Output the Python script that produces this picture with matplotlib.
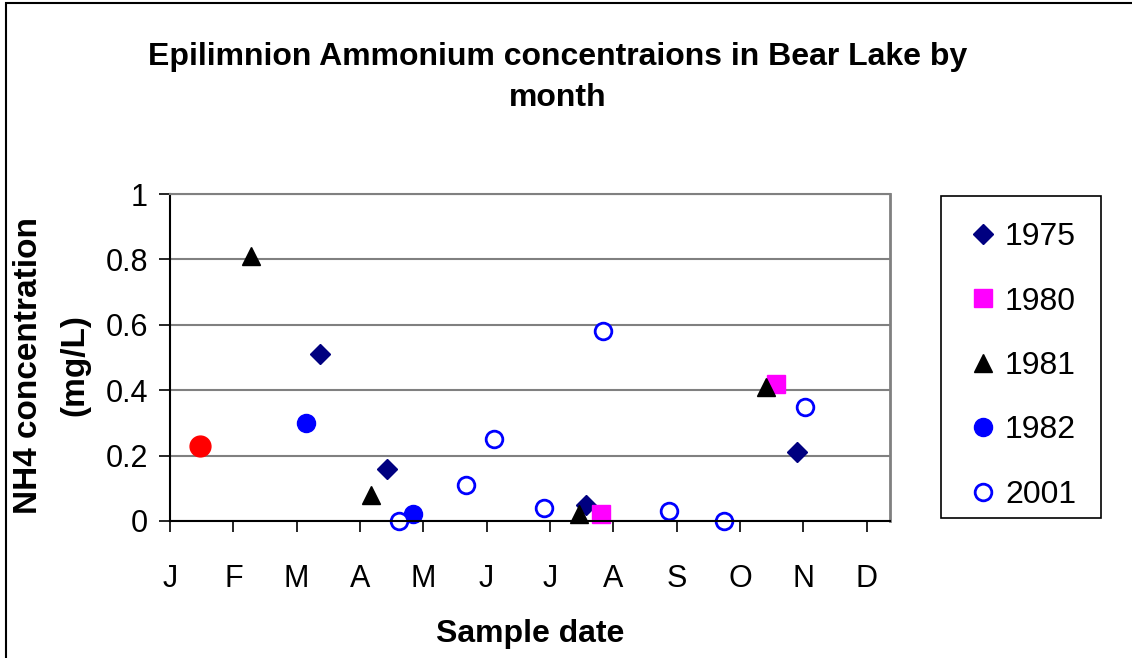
import matplotlib.pyplot as plt
from matplotlib.patches import Rectangle

plt.rcParams['font.family'] = ['Liberation Sans', 'DejaVu Sans']

# x in months from Jan 1 (0 = J tick), y in mg/L
months = ['J', 'F', 'M', 'A', 'M', 'J', 'J', 'A', 'S', 'O', 'N', 'D']

x1975 = [2.37, 3.43, 6.57, 9.90]
y1975 = [0.51, 0.16, 0.05, 0.21]

x1980 = [6.81, 9.57]
y1980 = [0.02, 0.42]

x1981 = [1.28, 3.17, 6.46, 9.41]
y1981 = [0.81, 0.08, 0.02, 0.41]

x1982 = [2.15, 3.84]
y1982 = [0.30, 0.02]

x2001 = [3.62, 4.67, 5.12, 5.91, 6.84, 7.88, 8.75, 10.03]
y2001 = [0.00, 0.11, 0.25, 0.04, 0.58, 0.03, 0.00, 0.35]

x_red = [0.47]
y_red = [0.23]

W, H = 1132, 658
fig = plt.figure(figsize=(W / 100, H / 100), dpi=100)
ax = fig.add_axes([170 / W, 1 - 521 / H, 720 / W, 327 / H])

ax.plot(x1975, y1975, 'D', color='#000080', ms=10, ls='none', label='1975', clip_on=False)
ax.plot(x1980, y1980, 's', color='#FF00FF', ms=13, ls='none', label='1980', clip_on=False)
ax.plot(x1981, y1981, '^', color='black', ms=13, ls='none', label='1981', clip_on=False)
ax.plot(x1982, y1982, 'o', color='#0000FF', ms=13, ls='none', label='1982', clip_on=False)
ax.plot(x2001, y2001, 'o', mfc='white', mec='#0000FF', mew=2, ms=12, ls='none', label='2001', clip_on=False)
ax.plot(x_red, y_red, 'o', color='#FF0000', ms=15, ls='none', clip_on=False)

ax.set_xlim(0, 11.37)
ax.set_ylim(0, 1)
ax.set_xticks(range(len(months)))
ax.set_xticklabels(months)
ax.set_yticks([0, 0.2, 0.4, 0.6, 0.8, 1])
ax.set_yticklabels(['0', '0.2', '0.4', '0.6', '0.8', '1'])
ax.tick_params(axis='both', labelsize=22, length=8, width=1.2, direction='out')
ax.tick_params(axis='x', pad=23)
ax.tick_params(axis='y', pad=8)

ax.grid(axis='y', color='#808080', lw=1.5)
ax.set_axisbelow(True)
ax.spines['top'].set_color('#808080')
ax.spines['right'].set_color('#808080')
ax.spines['top'].set_linewidth(1.5)
ax.spines['right'].set_linewidth(2)
ax.spines['left'].set_linewidth(1.5)
ax.spines['bottom'].set_linewidth(1.5)

fig.text(558 / W, 1 - 57 / H, 'Epilimnion Ammonium concentraions in Bear Lake by',
         ha='center', va='center', fontsize=23, fontweight='bold')
fig.text(558 / W, 1 - 98 / H, 'month', ha='center', va='center', fontsize=23, fontweight='bold')

fig.text(530 / W, 1 - 634 / H, 'Sample date', ha='center', va='center', fontsize=23, fontweight='bold')
fig.text(29 / W, 1 - 365 / H, 'NH4 concentration', ha='center', va='center',
         rotation=90, fontsize=24, fontweight='bold')
fig.text(75 / W, 1 - 365 / H, '(mg/L)', ha='center', va='center',
         rotation=90, fontsize=24, fontweight='bold')

# legend entries without frame, box drawn separately
leg = ax.legend(loc='center', bbox_to_anchor=(941 / W, 1 - 529.5 / H, 160 / W, 327 / H),
                bbox_transform=fig.transFigure, mode='expand', fontsize=23,
                frameon=False, labelspacing=1.08, handletextpad=0.0,
                handlelength=1.4, borderpad=0.6, borderaxespad=0, markerscale=1.0)
fig.add_artist(Rectangle((941 / W, 1 - 518 / H), 160 / W, 322 / H, transform=fig.transFigure,
                         fill=False, edgecolor='black', lw=1.2))

fig.add_artist(Rectangle((6 / W, -0.1), 1.2, 1.1 - 3 / H, transform=fig.transFigure,
                         fill=False, edgecolor='black', lw=1.5))

fig.savefig('out.png', dpi=100)
